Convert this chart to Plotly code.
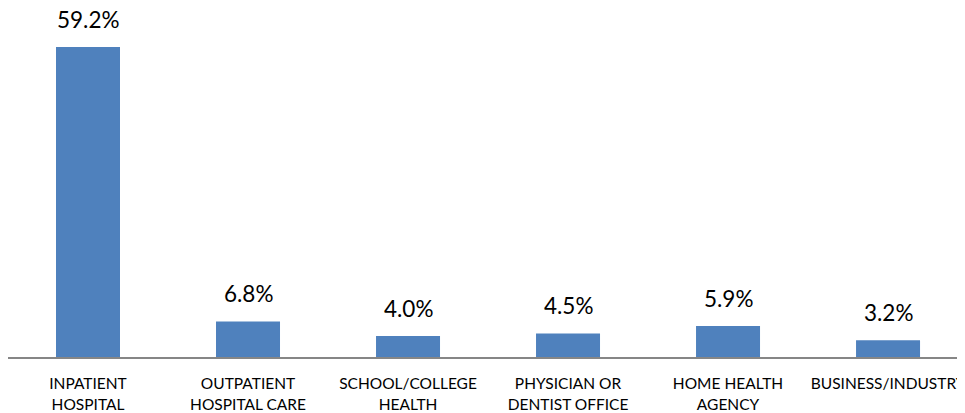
import plotly.graph_objects as go

categories = ["INPATIENT<br>HOSPITAL", "OUTPATIENT<br>HOSPITAL CARE", "SCHOOL/COLLEGE<br>HEALTH",
              "PHYSICIAN OR<br>DENTIST OFFICE", "HOME HEALTH<br>AGENCY", "BUSINESS/INDUSTRY"]
values = [59.2, 6.8, 4.0, 4.5, 5.9, 3.2]
value_labels = ["59.2%", "6.8%", "4.0%", "4.5%", "5.9%", "3.2%"]

FONT = "Lato, Calibri, Carlito, sans-serif"

fig = go.Figure(go.Bar(x=list(range(len(categories))), y=values, width=0.4,
                       marker=dict(color="#4F81BD", line=dict(width=0))))

for i, (v, t) in enumerate(zip(values, value_labels)):
    fig.add_annotation(x=i, y=v, text=t, showarrow=False, yanchor="bottom", yshift=12,
                       font=dict(family=FONT, size=22.5, color="#000000"))

fig.update_layout(
    width=957, height=405, margin=dict(l=0, r=0, t=0, b=56, autoexpand=False),
    plot_bgcolor="white", paper_bgcolor="white", showlegend=False,
    xaxis=dict(range=[-0.5, 5.481], tickvals=list(range(len(categories))), ticktext=categories,
               showline=True, linecolor="#868686", linewidth=1.5, showgrid=False, zeroline=False,
               automargin=False, ticks="", ticklabeloverflow="allow",
               tickfont=dict(family=FONT, size=15.5, color="#000000"), ticklabelstandoff=12),
    yaxis=dict(range=[0, 66.65], visible=False, showgrid=False, zeroline=False, automargin=False),
)

fig.write_html("out.html")
